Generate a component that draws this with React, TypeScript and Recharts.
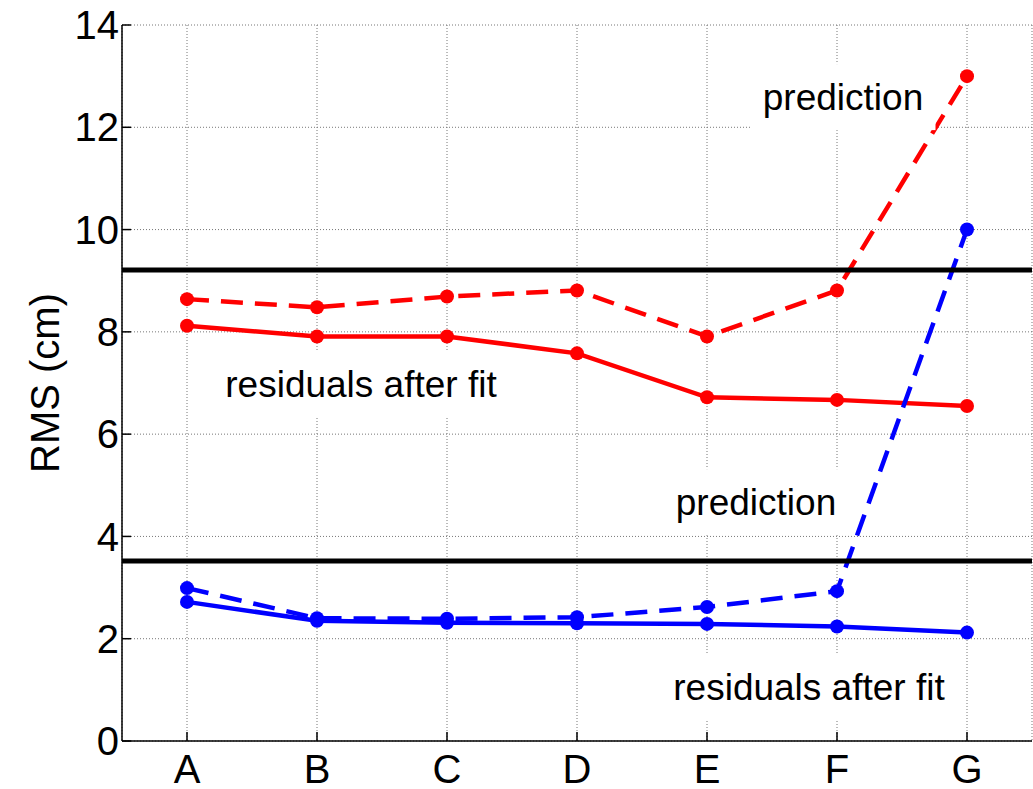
import React from 'react';
import {
  LineChart,
  Line,
  XAxis,
  YAxis,
  CartesianGrid,
  ReferenceLine,
  ReferenceDot,
} from 'recharts';

// Configurations along the x axis
const categories = ['A', 'B', 'C', 'D', 'E', 'F', 'G'];

// RMS (cm) for the upper (red) group
const redPrediction = [8.64, 8.48, 8.69, 8.81, 7.91, 8.81, 13.0];
const redResiduals = [8.12, 7.91, 7.91, 7.58, 6.72, 6.67, 6.55];

// RMS (cm) for the lower (blue) group
const bluePrediction = [2.99, 2.4, 2.39, 2.42, 2.62, 2.93, 10.0];
const blueResiduals = [2.72, 2.35, 2.31, 2.3, 2.29, 2.24, 2.12];

// Threshold levels drawn as heavy black lines
const thresholds = [9.21, 3.52];

const yTicks = [0, 2, 4, 6, 8, 10, 12, 14];

const data = categories.map((name, i) => ({
  name,
  redPrediction: redPrediction[i],
  redResiduals: redResiduals[i],
  bluePrediction: bluePrediction[i],
  blueResiduals: blueResiduals[i],
}));

const FONT = '"Liberation Sans", Arial, Helvetica, sans-serif';

// Text annotation with a white box behind it, anchored at a data point
const boxedLabel = (text: string, dx: number, boxW: number) => (props: any) => {
  const vb = props.viewBox || {};
  const cx = (vb.x ?? 0) + (vb.width ?? 0) / 2 + dx;
  const cy = (vb.y ?? 0) + (vb.height ?? 0) / 2;
  const boxH = 66;
  return (
    <g>
      <rect x={cx - boxW / 2} y={cy - boxH / 2} width={boxW} height={boxH} fill="#fff" />
      <text
        x={cx}
        y={cy}
        textAnchor="middle"
        dominantBaseline="central"
        fontFamily={FONT}
        fontSize={37}
        fill="#000"
      >
        {text}
      </text>
    </g>
  );
};

const yLabel = (props: any) => {
  const vb = props.viewBox || {};
  const cy = (vb.y ?? 0) + (vb.height ?? 0) / 2;
  const x = 59;
  return (
    <text
      x={x}
      y={cy}
      transform={`rotate(-90, ${x}, ${cy})`}
      textAnchor="middle"
      fontFamily={FONT}
      fontSize={40}
      fill="#000"
    >
      RMS (cm)
    </text>
  );
};

const axisLine = { stroke: '#000', strokeWidth: 1.5 };
const tickLine = { stroke: '#000', strokeWidth: 1.5 };
const tickStyle = { fontFamily: FONT, fontSize: 40, fill: '#000' };

export default function App() {
  return (
    <div style={{ position: 'absolute', left: 0, top: 0, background: '#fff' }}>
      <LineChart
        width={1033}
        height={789}
        data={data}
        margin={{ top: 25, right: 1, bottom: 0, left: 0 }}
      >
        <CartesianGrid stroke="#777" strokeDasharray="1 2" strokeWidth={1} />
        <XAxis
          dataKey="name"
          padding={{ left: 65, right: 65 }}
          height={48}
          axisLine={axisLine}
          tickLine={tickLine}
          tickSize={-9}
          tickMargin={23}
          tick={tickStyle}
          interval={0}
        />
        <XAxis
          xAxisId="top"
          orientation="top"
          dataKey="name"
          padding={{ left: 65, right: 65 }}
          height={0}
          axisLine={axisLine}
          tickLine={tickLine}
          tickSize={-9}
          tick={false}
          interval={0}
        />
        <YAxis
          domain={[0, 14]}
          ticks={yTicks}
          width={122}
          axisLine={axisLine}
          tickLine={tickLine}
          tickSize={-9}
          tickMargin={12}
          tick={tickStyle}
          interval={0}
          label={{ content: yLabel }}
        />
        <YAxis
          yAxisId="right"
          orientation="right"
          domain={[0, 14]}
          ticks={yTicks}
          width={0}
          axisLine={axisLine}
          tickLine={tickLine}
          tickSize={-9}
          tick={false}
          interval={0}
        />

        <Line
          dataKey="redPrediction"
          stroke="#ff0000"
          strokeWidth={4.5}
          strokeDasharray="22 12"
          dot={{ r: 7, fill: '#ff0000', stroke: '#ff0000', strokeWidth: 0, strokeDasharray: '' }}
          isAnimationActive={false}
        />
        <Line
          dataKey="redResiduals"
          stroke="#ff0000"
          strokeWidth={4.5}
          dot={{ r: 7, fill: '#ff0000', stroke: '#ff0000', strokeWidth: 0 }}
          isAnimationActive={false}
        />
        <Line
          dataKey="bluePrediction"
          stroke="#0000ff"
          strokeWidth={4.5}
          strokeDasharray="22 12"
          dot={{ r: 7, fill: '#0000ff', stroke: '#0000ff', strokeWidth: 0, strokeDasharray: '' }}
          isAnimationActive={false}
        />
        <Line
          dataKey="blueResiduals"
          stroke="#0000ff"
          strokeWidth={4.5}
          dot={{ r: 7, fill: '#0000ff', stroke: '#0000ff', strokeWidth: 0 }}
          isAnimationActive={false}
        />

        {thresholds.map((v) => (
          <ReferenceLine key={v} y={v} stroke="#000" strokeWidth={5} />
        ))}

        <ReferenceDot
          x="F"
          y={12.59}
          r={0}
          stroke="none"
          fill="none"
          label={{ content: boxedLabel('prediction', 6, 185) }}
        />
        <ReferenceDot
          x="B"
          y={6.98}
          r={0}
          stroke="none"
          fill="none"
          label={{ content: boxedLabel('residuals after fit', 44, 292) }}
        />
        <ReferenceDot
          x="E"
          y={4.67}
          r={0}
          stroke="none"
          fill="none"
          label={{ content: boxedLabel('prediction', 49, 185) }}
        />
        <ReferenceDot
          x="F"
          y={1.04}
          r={0}
          stroke="none"
          fill="none"
          label={{ content: boxedLabel('residuals after fit', -28, 292) }}
        />
      </LineChart>
    </div>
  );
}
